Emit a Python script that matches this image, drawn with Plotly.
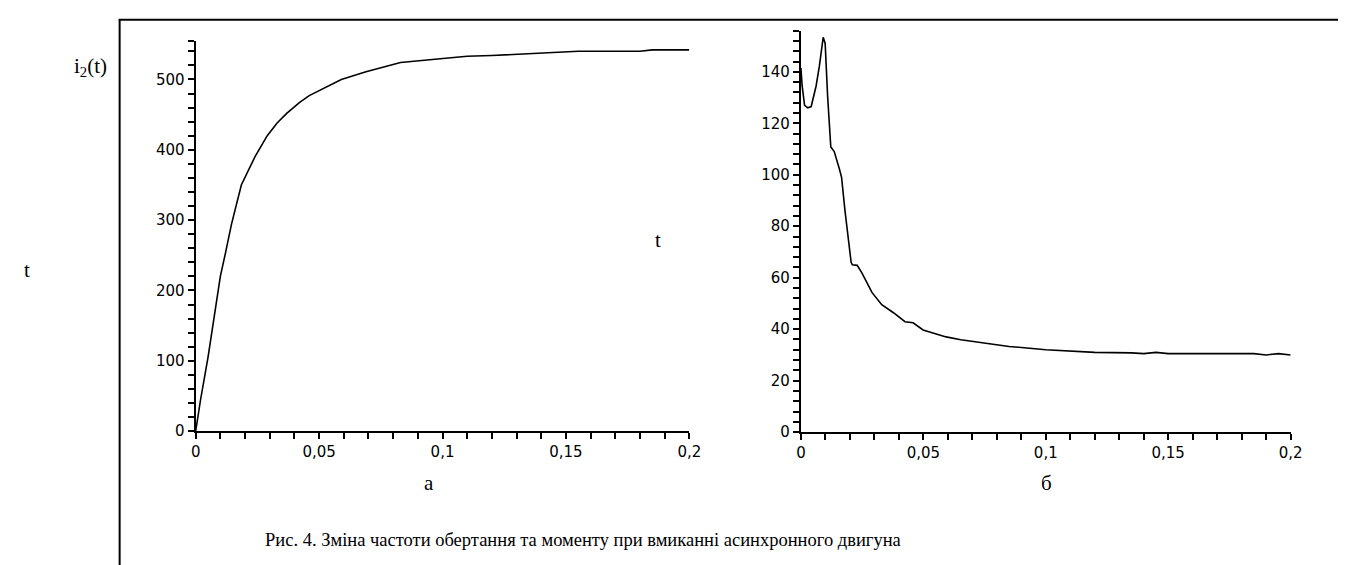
import plotly.graph_objects as go

# ---------------- data ----------------
# (a) i2(t)
t_a = [0, 0.002, 0.005, 0.0075, 0.010, 0.012, 0.0145, 0.0185, 0.024, 0.029,
       0.033, 0.037, 0.042, 0.046, 0.051, 0.059, 0.069, 0.083, 0.098, 0.11,
       0.12, 0.13, 0.14, 0.155, 0.18, 0.185, 0.2]
i_a = [0, 45, 105, 160, 220, 252, 294, 350, 390, 420,
       438, 452, 467, 477, 486, 500, 511, 524, 529, 533,
       534, 536, 538, 540, 540, 542, 542]

# (б)
t_b = [0, 0.0005, 0.0015, 0.0028, 0.0042, 0.0062, 0.0075, 0.0091, 0.0099, 0.0109,
       0.0122, 0.0136, 0.0156, 0.0166, 0.018, 0.0205, 0.021, 0.023, 0.025, 0.029,
       0.033, 0.0378, 0.0425, 0.0458, 0.0499, 0.0546, 0.0593, 0.0653, 0.075, 0.085,
       0.1, 0.11, 0.12, 0.135, 0.14, 0.145, 0.15, 0.185, 0.19, 0.195, 0.2]
m_b = [141.5, 134.5, 127, 126, 126.5, 134.5, 142, 153.4, 151, 130.6,
       110.8, 109, 102.6, 99, 86, 66, 65, 64.8, 61.7, 54.3,
       49.5, 46.4, 42.9, 42.5, 39.7, 38.4, 37, 35.9, 34.5, 33.3,
       32, 31.5, 31, 30.8, 30.5, 31, 30.5, 30.5, 30, 30.5, 30]

x_tickvals = [0, 0.05, 0.1, 0.15, 0.2]
x_ticktext = ["0", "0,05", "0,1", "0,15", "0,2"]
ya_tickvals = [0, 100, 200, 300, 400, 500]
yb_tickvals = [0, 20, 40, 60, 80, 100, 120, 140]

caption = "Рис. 4. Зміна частоти обертання та моменту при вмиканні асинхронного двигуна"

# ---------------- layout helpers ----------------
W, H = 1346, 565
def fx(px):
    return px / W
def fy(py):
    return 1 - py / H

fig = go.Figure()
fig.add_trace(go.Scatter(x=t_a, y=i_a, mode="lines", line=dict(color="black", width=1.6),
                         xaxis="x", yaxis="y", showlegend=False, hoverinfo="skip"))
fig.add_trace(go.Scatter(x=t_b, y=m_b, mode="lines", line=dict(color="black", width=1.6),
                         xaxis="x2", yaxis="y2", showlegend=False, hoverinfo="skip"))

tickfont = dict(family="DejaVu Sans", size=15, color="black")
common = dict(showgrid=False, zeroline=False, showline=True, linecolor="black", linewidth=2,
              ticks="outside", ticklen=6, tickwidth=1.5, tickcolor="black", tickfont=tickfont,
              fixedrange=True)

minor_x = dict(tickmode="array", tickvals=[i / 100 for i in range(1, 21)],
               ticks="outside", ticklen=6, tickwidth=1.5, tickcolor="black", showgrid=False)
minor_ya = dict(tickmode="array", tickvals=[v for v in range(20, 560, 20)] + [554],
                ticks="outside", ticklen=6, tickwidth=1.5, tickcolor="black", showgrid=False)
minor_yb = dict(tickmode="array", tickvals=[v for v in range(4, 157, 4)],
                ticks="outside", ticklen=6, tickwidth=1.5, tickcolor="black", showgrid=False)

fig.update_layout(
    width=W, height=H, autosize=False,
    margin=dict(l=0, r=0, t=0, b=0),
    paper_bgcolor="white", plot_bgcolor="white",
    xaxis=dict(domain=[fx(185), fx(685)], range=[0, 0.2], anchor="y",
               tickmode="array", tickvals=x_tickvals, ticktext=x_ticktext, minor=minor_x, **common),
    yaxis=dict(domain=[fy(430), fy(34)], range=[0, 554], anchor="x",
               tickmode="array", tickvals=ya_tickvals, minor=minor_ya, **common),
    xaxis2=dict(domain=[fx(798), fx(1294)], range=[0, 0.2], anchor="y2",
                tickmode="array", tickvals=x_tickvals, ticktext=x_ticktext, minor=minor_x, **common),
    yaxis2=dict(domain=[fy(431), fy(23)], range=[0, 156], anchor="x2",
                tickmode="array", tickvals=yb_tickvals, minor=minor_yb, **common),
)

# border lines
fig.add_shape(type="line", xref="paper", yref="paper", x0=fx(108), x1=fx(108), y0=fy(12), y1=fy(566),
              line=dict(color="black", width=2))
fig.add_shape(type="line", xref="paper", yref="paper", x0=fx(107), x1=fx(1347), y0=fy(12), y1=fy(12),
              line=dict(color="black", width=2))

serif = "Liberation Serif"
def note(text, px, py, size):
    fig.add_annotation(text=text, xref="paper", yref="paper", x=fx(px), y=fy(py),
                       xanchor="center", yanchor="middle", showarrow=False,
                       font=dict(family=serif, size=size, color="black"))

note("i<sub>2</sub>(t)", 78, 60, 21)
note("t", 14, 266, 21)
note("t", 653, 236, 21)
note("а", 421, 483, 21)
note("б", 1047, 483, 21)
note(caption, 577, 541, 18.5)

fig.write_html("out.html")
